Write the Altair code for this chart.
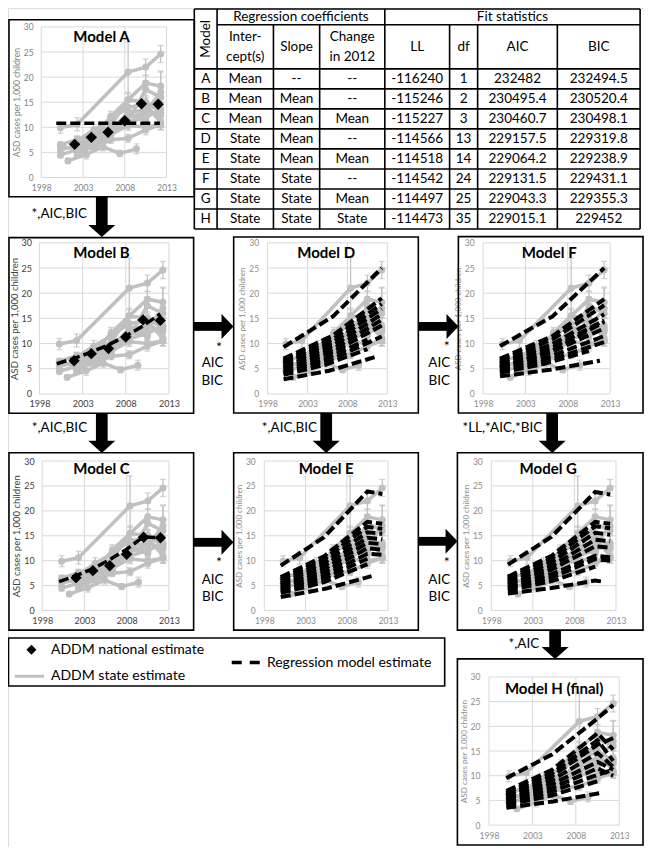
import altair as alt
import pandas as pd

FONT = "Lato"
W, H = 636, 839
SX = W / 651.0
SY = H / 855.0


def rx(X):
    return (X - 1) * SX


def ry(Y):
    return Y * SY


# ---------------- data ----------------
x_ticks = [1998, 2003, 2008, 2013]
y_ticks = [0, 5, 10, 15, 20, 25, 30]

nat_year = [2002, 2004, 2006, 2008, 2010, 2012]
nat_value = [6.6, 8.0, 9.0, 11.3, 14.7, 14.6]

state_x = {
    "NJ": [2000.3, 2002.3, 2008.4, 2010.5, 2012.3],
    "AL": [2001.2, 2003.4, 2005.4, 2007.4, 2009.4],
    "AZ": [2002.3, 2004.3, 2006.3, 2008.4, 2010.5, 2012.3],
    "AR": [2002.3, 2008.4, 2010.5, 2012.3],
    "CO": [2002.3, 2006.3, 2008.4, 2010.5, 2012.3],
    "GA": [2000.3, 2002.3, 2004.3, 2006.3, 2008.4, 2010.5, 2012.3],
    "MD": [2000.3, 2002.3, 2004.3, 2006.3, 2008.4, 2010.5, 2012.3],
    "MO": [2002.3, 2004.3, 2006.3, 2008.4, 2010.5, 2012.3],
    "NC": [2002.3, 2004.3, 2006.3, 2008.4, 2010.5, 2012.3],
    "SC": [2000.3, 2002.3, 2006.3, 2008.4, 2010.5],
    "UT": [2002.3, 2004.3, 2006.3, 2008.4, 2010.5, 2012.3],
    "WI": [2002.3, 2004.3, 2006.3, 2008.4, 2010.5, 2012.3],
    "WV": [2000.3, 2002.3],
    "PA": [2002.3, 2006.3, 2008.4, 2010.5],
}
state_y = {
    "NJ": [9.9, 10.6, 21.0, 22.0, 24.6],
    "AL": [3.3, 4.6, 6.1, 4.8, 5.7],
    "AZ": [6.2, 8.0, 12.1, 15.5, 15.0, 13.0],
    "AR": [6.5, 11.0, 12.0, 13.5],
    "CO": [5.9, 8.5, 10.4, 10.0, 10.5],
    "GA": [6.5, 7.6, 8.5, 10.0, 12.0, 13.0, 17.0],
    "MD": [5.5, 6.3, 7.8, 9.2, 13.0, 13.5, 12.5],
    "MO": [7.3, 9.5, 11.5, 14.0, 14.5, 11.0],
    "NC": [6.4, 8.8, 10.3, 15.5, 18.8, 18.2],
    "SC": [6.3, 5.6, 8.4, 12.3, 11.5],
    "UT": [4.5, 6.5, 9.0, 11.4, 17.5, 16.0],
    "WI": [5.2, 6.0, 7.5, 7.8, 9.5, 10.5],
    "WV": [4.5, 5.5],
    "PA": [5.2, 8.0, 12.5, 12.0],
}
state_err = {
    "NJ": [1.1, 1.3, 6.0, 1.6, 1.7],
    "AL": [0.5, 0.9, 0.8, 0.6, 1.0],
    "AZ": [0.6, 0.8, 1.1, 1.5, 1.3, 1.2],
    "AR": [0.9, 1.3, 1.3, 1.5],
    "CO": [0.7, 0.9, 1.0, 1.1, 1.0],
    "GA": [0.6, 0.6, 0.7, 0.8, 0.9, 1.0, 1.2],
    "MD": [0.6, 0.7, 0.8, 0.9, 1.2, 1.2, 1.3],
    "MO": [1.0, 1.1, 1.3, 1.5, 1.5, 1.4],
    "NC": [0.7, 0.8, 0.9, 1.2, 1.5, 3.0],
    "SC": [0.7, 0.7, 0.9, 1.2, 1.2],
    "UT": [0.6, 0.8, 1.0, 1.2, 1.8, 5.0],
    "WI": [0.6, 0.6, 0.7, 0.8, 1.0, 1.0],
    "WV": [0.6, 0.7],
    "PA": [0.6, 0.8, 1.3, 1.2],
}

# regression model estimates (dashed lines), one list of (year, value) per line
fit_A = [[(1999.8, 10.8), (2012.2, 10.8)]]
fit_B = [[(2000.0, 6.0), (2002, 7.05), (2004, 8.3), (2006, 9.75), (2008, 11.5), (2010, 13.5), (2012.0, 15.9)]]
fit_C = [[(2000.0, 5.8), (2002, 7.0), (2004, 8.4), (2006, 10.2), (2008, 12.3), (2010, 14.8), (2012.0, 14.6)]]
fit_D = [
    [(2000.0, 9.3), (2006.2, 15.4), (2012.3, 25.0)],
    [(2000.0, 7.0), (2006.2, 11.6), (2012.3, 19.0)],
    [(2000.0, 6.6), (2006.2, 10.9), (2012.3, 17.9)],
    [(2000.0, 6.2), (2006.2, 10.3), (2012.3, 16.9)],
    [(2000.0, 5.8), (2006.2, 9.6), (2012.3, 15.8)],
    [(2000.0, 5.4), (2006.2, 8.9), (2012.3, 14.7)],
    [(2000.0, 5.0), (2006.2, 8.3), (2012.3, 13.6)],
    [(2000.0, 4.6), (2005.25, 7.0), (2010.5, 10.8)],
    [(2000.0, 4.2), (2006.2, 7.0), (2012.3, 11.4)],
    [(2000.0, 3.8), (2005.25, 5.8), (2010.5, 8.9)],
    [(2000.0, 2.9), (2005.7, 4.6), (2011.4, 7.3)],
]
fit_E = [
    [(2000.0, 9.0), (2005.25, 14.7), (2010.5, 23.9), (2012.3, 23.4)],
    [(2000.0, 6.7), (2005.25, 10.9), (2010.5, 17.8), (2012.3, 17.4)],
    [(2000.0, 6.3), (2005.25, 10.3), (2010.5, 16.8), (2012.3, 16.4)],
    [(2000.0, 5.9), (2005.25, 9.6), (2010.5, 15.7), (2012.3, 15.4)],
    [(2000.0, 5.5), (2005.25, 9.0), (2010.5, 14.6), (2012.3, 14.3)],
    [(2000.0, 5.1), (2005.25, 8.3), (2010.5, 13.6), (2012.3, 13.3)],
    [(2000.0, 4.7), (2005.25, 7.7), (2010.5, 12.5), (2012.3, 12.2)],
    [(2000.0, 4.3), (2005.25, 7.0), (2010.5, 11.4), (2012.3, 11.2)],
    [(2000.0, 3.9), (2005.25, 6.4), (2010.5, 10.4)],
    [(2000.0, 3.5), (2005.25, 5.7), (2010.5, 9.3)],
    [(2000.0, 2.7), (2005.5, 4.4), (2011.0, 6.9)],
]
fit_F = [
    [(2000.0, 9.5), (2006.2, 15.4), (2012.3, 25.0)],
    [(2000.0, 7.0), (2006.2, 11.5), (2012.3, 18.8)],
    [(2000.0, 6.6), (2006.2, 10.8), (2012.3, 17.6)],
    [(2000.0, 6.2), (2006.2, 9.9), (2012.3, 15.8)],
    [(2000.0, 5.8), (2006.2, 9.2), (2012.3, 14.6)],
    [(2000.0, 5.4), (2006.2, 8.4), (2012.3, 13.0)],
    [(2000.0, 5.0), (2006.2, 7.6), (2012.3, 11.5)],
    [(2000.0, 4.6), (2006.2, 6.9), (2012.3, 10.3)],
    [(2000.0, 5.2), (2006.2, 8.6), (2012.3, 14.3)],
    [(2000.0, 4.2), (2005.25, 6.0), (2010.5, 8.5)],
    [(2000.0, 3.5), (2005.9, 4.8), (2011.8, 6.6)],
]
fit_G = [
    [(2000.0, 9.2), (2005.25, 14.8), (2010.5, 23.8), (2012.3, 23.3)],
    [(2000.0, 6.8), (2005.25, 11.0), (2010.5, 17.8), (2012.3, 17.4)],
    [(2000.0, 6.4), (2005.25, 10.4), (2010.5, 16.9), (2012.3, 16.5)],
    [(2000.0, 6.0), (2005.25, 9.7), (2010.5, 15.6), (2012.3, 15.2)],
    [(2000.0, 5.6), (2005.25, 8.9), (2010.5, 14.2), (2012.3, 13.9)],
    [(2000.0, 5.2), (2005.25, 8.2), (2010.5, 12.9), (2012.3, 12.6)],
    [(2000.0, 4.8), (2005.25, 7.3), (2010.5, 11.0), (2012.3, 10.7)],
    [(2000.0, 4.4), (2005.25, 6.6), (2010.5, 10.3), (2012.3, 10.0)],
    [(2000.0, 4.0), (2005.25, 5.9), (2010.5, 8.8)],
    [(2000.0, 3.4), (2005.25, 4.5), (2010.5, 6.0), (2011.4, 5.8)],
]
fit_H = [
    [(2000.0, 9.5), (2005.25, 14.3), (2010.5, 21.6), (2012.3, 24.3)],
    [(2000.0, 6.9), (2005.25, 11.2), (2010.5, 18.6), (2012.3, 15.3)],
    [(2000.0, 6.5), (2005.25, 10.5), (2010.5, 17.2), (2012.3, 13.0)],
    [(2000.0, 6.1), (2005.25, 9.9), (2010.5, 16.3), (2012.3, 17.6)],
    [(2000.0, 5.7), (2005.25, 9.1), (2010.5, 14.6), (2012.3, 11.8)],
    [(2000.0, 5.3), (2005.25, 8.3), (2010.5, 12.8), (2012.3, 11.2)],
    [(2000.0, 4.9), (2005.25, 7.5), (2010.5, 11.5), (2012.3, 10.0)],
    [(2000.0, 4.5), (2005.25, 6.8), (2010.5, 10.2), (2012.3, 11.2)],
    [(2000.0, 4.1), (2005.25, 6.0), (2010.5, 8.9)],
    [(2000.0, 3.5), (2005.4, 4.8), (2010.8, 6.5)],
]

# table
tab_model = ["A", "B", "C", "D", "E", "F", "G", "H"]
tab_intercept = ["Mean", "Mean", "Mean", "State", "State", "State", "State", "State"]
tab_slope = ["--", "Mean", "Mean", "Mean", "Mean", "State", "State", "State"]
tab_change = ["--", "--", "Mean", "--", "Mean", "--", "Mean", "State"]
tab_ll = ["-116240", "-115246", "-115227", "-114566", "-114518", "-114542", "-114497", "-114473"]
tab_df = ["1", "2", "3", "13", "14", "24", "25", "35"]
tab_aic = ["232482", "230495.4", "230460.7", "229157.5", "229064.2", "229131.5", "229043.3", "229015.1"]
tab_bic = ["232494.5", "230520.4", "230498.1", "229319.8", "229238.9", "229431.1", "229355.3", "229452"]
tab_header2 = [["Inter-", "cept(s)"], ["Slope"], ["Change", "in 2012"], ["LL"], ["df"], ["AIC"], ["BIC"]]

# ---------------- layout (reference pixel positions) ----------------
GREY = "#c0c0c0"
GRID = "#d9d9d9"

style_a = dict(lfs=8.5, lc="#7f7f7f", tfs=8.5, tc="#7f7f7f", lpx=6, lpy=8, tp=2)
style_b = dict(lfs=9, lc="#404040", tfs=9.5, tc="#404040", lpx=6, lpy=8, tp=2)
style_d = dict(lfs=8.5, lc="#8c8c8c", tfs=8, tc="#8c8c8c", lpx=6, lpy=9, tp=2)

panels = [
    dict(title="Model A", box=(2, 12, 191.7, 192.3), px=(35, 163.3), py=(172.7, 19.3), tpos=(96.7, 29.5), fits=fit_A, nat=True, style=style_a, fw=3.5),
    dict(title="Model B", box=(2, 234, 191, 413), px=(33.3, 165.7), py=(393.3, 239.3), tpos=(96.7, 250), fits=fit_B, nat=True, style=style_b, fw=3.5),
    dict(title="Model C", box=(2, 453.3, 191, 634), px=(36, 165.7), py=(614, 461.7), tpos=(96.7, 470), fits=fit_C, nat=True, style=style_b, fw=3.5),
    dict(title="Model D", box=(232, 233.3, 421, 412.7), px=(266.7, 389.3), py=(393.3, 239.3), tpos=(326.7, 250), fits=fit_D, nat=False, style=style_d, fw=4),
    dict(title="Model E", box=(232, 453.3, 421, 634), px=(263.3, 390), py=(614, 461.7), tpos=(326.7, 470), fits=fit_E, nat=False, style=style_d, fw=4),
    dict(title="Model F", box=(462, 233, 651, 412.7), px=(487.3, 617.3), py=(393.3, 239.3), tpos=(555, 250), fits=fit_F, nat=False, style=style_d, fw=4),
    dict(title="Model G", box=(461, 453.3, 651, 634), px=(495.7, 623.3), py=(614, 461.7), tpos=(554, 470), fits=fit_G, nat=False, style=style_d, fw=4),
    dict(title="Model H (final)", box=(461, 663.3, 651, 853), px=(493.3, 626.7), py=(832.7, 681.7), tpos=(560, 693.5), fits=fit_H, nat=False, style=style_d, fw=4),
]

# ---------------- derived tables ----------------
rows = []
for s in state_x:
    for xv, yv, ev in zip(state_x[s], state_y[s], state_err[s]):
        rows.append(dict(state=s, x=xv, y=yv, lo=yv - ev, hi=yv + ev))
state_df = pd.DataFrame(rows)
cap_df = pd.DataFrame(
    [dict(x=r["x"], v=r["lo"]) for r in rows] + [dict(x=r["x"], v=r["hi"]) for r in rows]
)
nat_df = pd.DataFrame({"x": nat_year, "y": nat_value})
gridh_df = pd.DataFrame({"v": y_ticks, "a": 1998, "b": 2013})
gridv_df = pd.DataFrame({"v": x_ticks, "a": 0, "b": 30})


def fit_df(fits):
    out = []
    for i, line in enumerate(fits):
        for xv, yv in line:
            out.append(dict(g=i, x=xv, y=yv))
    return pd.DataFrame(out)


def CX(f):
    return alt.X(f, type="quantitative", scale=alt.Scale(domain=[1, 652], range=[0, W], nice=False, zero=False), axis=None)


def CY(f):
    return alt.Y(f, type="quantitative", scale=alt.Scale(domain=[0, 855], range=[0, H], nice=False, zero=False), axis=None)


def panel_layers(p):
    xs = alt.Scale(domain=[1998, 2013], range=[rx(p["px"][0]), rx(p["px"][1])], nice=False, zero=False)
    ys = alt.Scale(domain=[0, 30], range=[ry(p["py"][0]), ry(p["py"][1])], nice=False, zero=False)
    st = p["style"]
    xaxis = alt.Axis(orient="bottom", offset=ry(p["py"][0]) - H, values=x_ticks, format="d",
                     ticks=False, domain=False, grid=False, labelFont=FONT,
                     labelFontSize=st["lfs"], labelColor=st["lc"], labelPadding=st["lpx"],
                     title=None, labelOverlap=False, labelFlush=False)
    yaxis = alt.Axis(orient="left", offset=-rx(p["px"][0]), values=y_ticks, format="d",
                     ticks=False, domain=False, grid=False, labelFont=FONT,
                     labelFontSize=st["lfs"], labelColor=st["lc"], labelPadding=st["lpy"],
                     title="ASD cases per 1,000 children", titleFont=FONT,
                     titleFontSize=st["tfs"], titleColor=st["tc"], titleFontWeight="normal",
                     titlePadding=st["tp"], labelOverlap=False, labelFlush=False)

    def X(f, axis=None):
        return alt.X(f, type="quantitative", scale=xs, axis=axis)

    def Y(f, axis=None):
        return alt.Y(f, type="quantitative", scale=ys, axis=axis)

    L = [
        alt.Chart(gridh_df).mark_rule(color=GRID, strokeWidth=1).encode(
            x=X("a"), x2=alt.X2("b"), y=Y("v", yaxis)),
        alt.Chart(gridv_df).mark_rule(color=GRID, strokeWidth=1).encode(
            x=X("v", xaxis), y=Y("a"), y2=alt.Y2("b")),
        alt.Chart(state_df).mark_rule(color=GREY, strokeWidth=1.2).encode(
            x=X("x"), y=Y("lo"), y2=alt.Y2("hi")),
        alt.Chart(cap_df).mark_tick(color=GREY, orient="horizontal", size=6, thickness=1.2).encode(
            x=X("x"), y=Y("v")),
        alt.Chart(state_df).mark_line(color=GREY, strokeWidth=3.5).encode(
            x=X("x"), y=Y("y"), detail="state:N"),
        alt.Chart(state_df).mark_circle(color=GREY, size=50, opacity=1).encode(
            x=X("x"), y=Y("y")),
        alt.Chart(fit_df(p["fits"])).mark_line(color="black", strokeWidth=p["fw"], strokeDash=[10, 4]).encode(
            x=X("x"), y=Y("y"), detail="g:N"),
    ]
    if p["nat"]:
        L.append(alt.Chart(nat_df).mark_point(shape="diamond", filled=True, color="black", size=130, opacity=1).encode(
            x=X("x"), y=Y("y")))
    return L


layers = []
for p in panels:
    layers += panel_layers(p)

# panel titles
title_df = pd.DataFrame({"X": [p["tpos"][0] for p in panels], "Y": [p["tpos"][1] for p in panels],
                         "t": [p["title"] for p in panels]})
layers.append(alt.Chart(title_df).mark_text(font=FONT, fontSize=15, fontWeight="bold", color="black",
                                            align="center", baseline="middle").encode(
    x=CX("X"), y=CY("Y"), text="t:N"))

# boxes (panels + legend)
box_rows = [dict(X=p["box"][0], Y=p["box"][1], X2=p["box"][2], Y2=p["box"][3]) for p in panels]
box_rows.append(dict(X=1.5, Y=642, X2=448, Y2=691))
layers.append(alt.Chart(pd.DataFrame(box_rows)).mark_rect(fill="white", fillOpacity=0, stroke="black", strokeWidth=1.6).encode(
    x=CX("X"), x2=alt.X2("X2"), y=CY("Y"), y2=alt.Y2("Y2")))

# table
col_edges = [191.7, 215, 272.7, 320, 386.7, 453, 481.7, 563.3, 648]
row_top, row_h = 62, 20.4
n_rows = len(tab_model)
row_edges = [row_top + row_h * i for i in range(n_rows + 1)]
centers = [(col_edges[i] + col_edges[i + 1]) / 2 for i in range(len(col_edges) - 1)]
tl = []
tl.append(dict(X=191.7, Y=1, X2=648, Y2=1))
tl.append(dict(X=215, Y=17, X2=648, Y2=17))
for yv in row_edges:
    tl.append(dict(X=191.7, Y=yv, X2=648, Y2=yv))
for i, xv in enumerate(col_edges):
    top = 1 if xv in (191.7, 215, 386.7, 648) else 17
    tl.append(dict(X=xv, Y=top, X2=xv, Y2=row_edges[-1]))
layers.append(alt.Chart(pd.DataFrame(tl)).mark_rule(color="black", strokeWidth=1.6).encode(
    x=CX("X"), x2=alt.X2("X2"), y=CY("Y"), y2=alt.Y2("Y2")))

cells = []
cols = [tab_model, tab_intercept, tab_slope, tab_change, tab_ll, tab_df, tab_aic, tab_bic]
for ci, col in enumerate(cols):
    for ri, val in enumerate(col):
        cells.append(dict(X=centers[ci], Y=row_top + row_h * (ri + 0.5) + 0.5, t=val))
cells.append(dict(X=(215 + 386.7) / 2, Y=9.5, t="Regression coefficients"))
cells.append(dict(X=(386.7 + 648) / 2, Y=9.5, t="Fit statistics"))
for ci, lines in enumerate(tab_header2):
    if len(lines) == 1:
        cells.append(dict(X=centers[ci + 1], Y=39.5, t=lines[0]))
    else:
        cells.append(dict(X=centers[ci + 1], Y=30, t=lines[0]))
        cells.append(dict(X=centers[ci + 1], Y=50, t=lines[1]))
layers.append(alt.Chart(pd.DataFrame(cells)).mark_text(font=FONT, fontSize=13.5, color="black", align="center",
                                                      baseline="middle").encode(
    x=CX("X"), y=CY("Y"), text="t:N"))
layers.append(alt.Chart(pd.DataFrame([dict(X=centers[0], Y=31.5, t="Model")])).mark_text(
    font=FONT, fontSize=13.5, color="black", align="center", baseline="middle", angle=270).encode(
    x=CX("X"), y=CY("Y"), text="t:N"))

# arrows
v_arrows = [(97, 192.3, 233.3), (97, 413, 453.3), (326.7, 412.7, 453.3), (558, 412.7, 453.3), (561, 634, 663.3)]
h_arrows = [(324.5, 191, 231.7), (324.5, 421, 462), (544.5, 191, 231.7), (543.5, 421, 461)]
shafts = []
heads_v = []
heads_h = []
for cx, y0, y1 in v_arrows:
    shafts.append(dict(X=cx - 6, X2=cx + 6, Y=y0, Y2=y1 - 11.5))
    heads_v.append(dict(X=cx, Y=y1 - 6))
for cy, x0, x1 in h_arrows:
    shafts.append(dict(X=x0, X2=x1 - 11.5, Y=cy - 4.5, Y2=cy + 4.5))
    heads_h.append(dict(X=x1 - 6, Y=cy))
layers.append(alt.Chart(pd.DataFrame(shafts)).mark_rect(color="black").encode(
    x=CX("X"), x2=alt.X2("X2"), y=CY("Y"), y2=alt.Y2("Y2")))
layers.append(alt.Chart(pd.DataFrame(heads_v)).mark_point(shape="M-1,-0.45L1,-0.45L0,0.45Z", filled=True,
                                                         color="black", size=729, opacity=1).encode(
    x=CX("X"), y=CY("Y")))
layers.append(alt.Chart(pd.DataFrame(heads_h)).mark_point(shape="M-0.48,-1L0.48,0L-0.48,1Z", filled=True,
                                                         color="black", size=625, opacity=1).encode(
    x=CX("X"), y=CY("Y")))

arrow_labels = [
    ("*,AIC,BIC", 53.5, 209.5), ("*,AIC,BIC", 53.7, 428), ("*,AIC,BIC", 289, 428),
    ("*LL,*AIC,*BIC", 507, 428), ("*,AIC", 529, 648.5),
    ("AIC", 210.5, 362), ("BIC", 210, 380.5),
    ("AIC", 442.5, 362), ("BIC", 442.5, 380.5),
    ("AIC", 210.5, 583), ("BIC", 210.5, 600.5),
    ("AIC", 442.5, 583), ("BIC", 442.5, 600.5),
]
layers.append(alt.Chart(pd.DataFrame(arrow_labels, columns=["t", "X", "Y"])).mark_text(
    font=FONT, fontSize=13.5, color="black", align="center", baseline="middle").encode(
    x=CX("X"), y=CY("Y"), text="t:N"))
star_labels = [("*", 217, 346), ("*", 450, 345), ("*", 217, 566), ("*", 450, 566)]
layers.append(alt.Chart(pd.DataFrame(star_labels, columns=["t", "X", "Y"])).mark_text(
    font=FONT, fontSize=14, color="black", align="center", baseline="middle").encode(
    x=CX("X"), y=CY("Y"), text="t:N"))

# legend
layers.append(alt.Chart(pd.DataFrame([dict(X=25, Y=654)])).mark_point(shape="diamond", filled=True, color="black",
                                                                      size=100, opacity=1).encode(x=CX("X"), y=CY("Y")))
layers.append(alt.Chart(pd.DataFrame([dict(X=8, X2=38, Y=681)])).mark_rule(color=GREY, strokeWidth=3).encode(
    x=CX("X"), x2=alt.X2("X2"), y=CY("Y")))
layers.append(alt.Chart(pd.DataFrame([dict(X=230, X2=259, Y=667)])).mark_rule(color="black", strokeWidth=3.5,
                                                                              strokeDash=[10, 8]).encode(
    x=CX("X"), x2=alt.X2("X2"), y=CY("Y")))
leg_txt = [("ADDM national estimate", 45, 654), ("ADDM state estimate", 45, 681), ("Regression model estimate", 266, 667)]
layers.append(alt.Chart(pd.DataFrame(leg_txt, columns=["t", "X", "Y"])).mark_text(
    font=FONT, fontSize=14, color="black", align="left", baseline="middle").encode(
    x=CX("X"), y=CY("Y"), text="t:N"))

chart = alt.layer(*layers).resolve_scale(x="independent", y="independent").properties(
    width=W, height=H, autosize=alt.AutoSizeParams(type="none"), padding=0
).configure_view(strokeWidth=0).configure(background="white")

chart.save("out.html", embed_options={"renderer": "svg", "actions": False})
